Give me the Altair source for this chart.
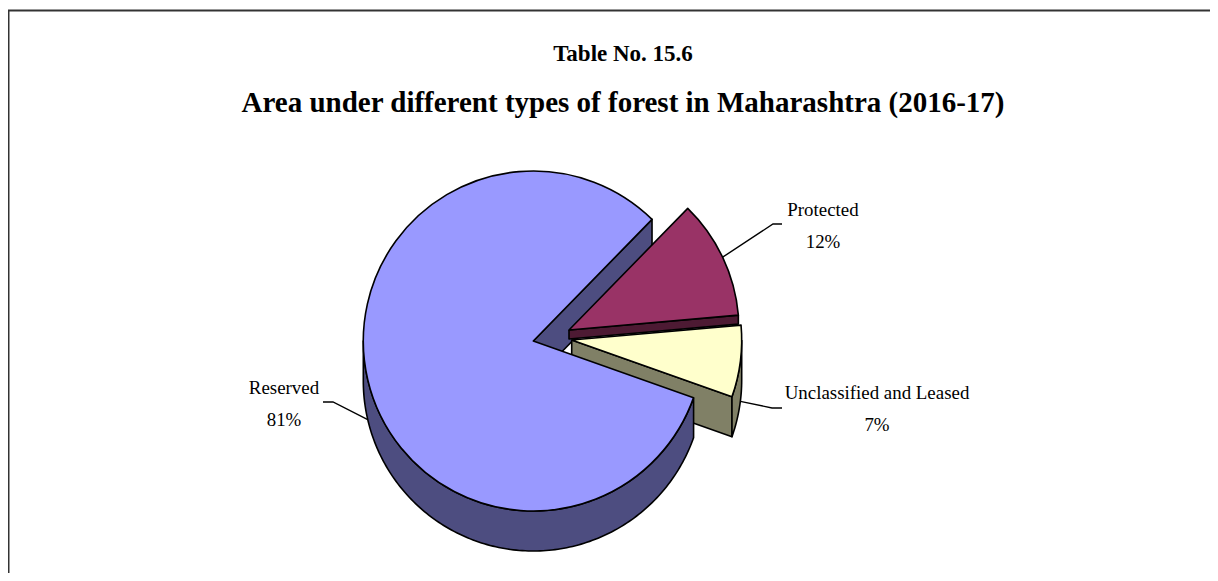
import math
import altair as alt
import pandas as pd

# ---- values
categories = ["Protected", "Unclassified and Leased", "Reserved"]
shares = [11.3, 6.8, 81.9]
percent_labels = ["12%", "7%", "81%"]
top_colors = ["#993366", "#FFFFCC", "#9999FF"]
wall_colors = ["#4D1A33", "#808066", "#4D4D80"]

title_line = "Table No. 15.6"
subtitle_line = "Area under different types of forest in Maharashtra (2016-17)"

# ---- layout (page pixels)
W, H = 1202, 565
PAGE = 8
START_DEG = 44.3
RADIUS = 170
centres = [(569.0, 330.0), (571.7, 340.0), (533.3, 341.0)]
wall_depths = [9, 40, 40]
label_xy = [(823, 226), (877, 409), (284, 404)]
elbow_xy = [(773, 224), (772, 408), (333, 402)]
leader_end = [(782, 224), (782, 408), (323, 402)]
leader_drop = [0, 40, 40]

xs = alt.Scale(domain=[PAGE, PAGE + W], range=[0, W])
ys = alt.Scale(domain=[PAGE, PAGE + H], range=[0, H])

# slice angles, clockwise from north, derived from the shares
total = sum(shares)
angles = []
cur = START_DEG
for s in shares:
    nxt = cur + s / total * 360
    angles.append((cur, nxt))
    cur = nxt


def pt(c, deg, dy=0, r=RADIUS):
    a = math.radians(deg)
    return c[0] + r * math.sin(a), c[1] - r * math.cos(a) + dy


def polygon(points, color):
    pts = points + [points[0]]
    df = pd.DataFrame({"x": [p[0] for p in pts], "y": [p[1] for p in pts], "o": range(len(pts))})
    return alt.Chart(df).mark_line(fill=color, stroke="black", strokeWidth=1.6, strokeJoin="round").encode(
        x=alt.X("x:Q", scale=xs, axis=None),
        y=alt.Y("y:Q", scale=ys, axis=None),
        order="o:Q",
    )


def arc_points(c, a0, a1, dy=0, step=1.0):
    n = max(2, int(abs(a1 - a0) / step))
    return [pt(c, a0 + (a1 - a0) * i / n, dy) for i in range(n + 1)]


def top(i):
    c = centres[i]
    a0, a1 = angles[i]
    df = pd.DataFrame({"x": [c[0]], "y": [c[1]], "t0": [math.radians(a0)], "t1": [math.radians(a1)],
                       "category": [categories[i]]})
    return alt.Chart(df).mark_arc(outerRadius=RADIUS, innerRadius=0, fill=top_colors[i], stroke="black",
                                  strokeWidth=1.6, strokeJoin="round").encode(
        x=alt.X("x:Q", scale=xs, axis=None),
        y=alt.Y("y:Q", scale=ys, axis=None),
        theta=alt.Theta("t0:Q", scale=None),
        theta2=alt.Theta2("t1:Q"),
    )


def start_wall(i, deg):
    c, d = centres[i], wall_depths[i]
    p = pt(c, deg)
    return polygon([c, p, (p[0], p[1] + d), (c[0], c[1] + d)], wall_colors[i])


def outer_wall(i, a0, a1):
    c, d = centres[i], wall_depths[i]
    return polygon(arc_points(c, a0, a1) + arc_points(c, a1, a0, d), wall_colors[i])


layers = [
    start_wall(2, angles[2][1]),          # inner face of the large slice
    start_wall(0, angles[0][1]),          # cut face of Protected
    top(0),
    start_wall(1, angles[1][1]),          # cut face of Unclassified
    outer_wall(1, angles[1][0] + 5, angles[1][1]),
    top(1),
    outer_wall(2, angles[2][0], 270),
    top(2),
]

# leader lines
for i in range(3):
    mid = sum(angles[i]) / 2
    s = pt(centres[i], mid, leader_drop[i])
    pts = [s, elbow_xy[i], leader_end[i]]
    df = pd.DataFrame({"x": [p[0] for p in pts], "y": [p[1] for p in pts], "o": [0, 1, 2]})
    layers.append(alt.Chart(df).mark_line(color="black", strokeWidth=1.4).encode(
        x=alt.X("x:Q", scale=xs, axis=None), y=alt.Y("y:Q", scale=ys, axis=None), order="o:Q"))

# data labels
lab = pd.DataFrame({
    "x": [p[0] for p in label_xy], "y": [p[1] for p in label_xy],
    "cat": categories, "pct": percent_labels})
base_text = dict(font="Liberation Serif", fontSize=18.9, color="black", align="center", baseline="middle")
layers.append(alt.Chart(lab).mark_text(dy=-16, **base_text).encode(
    x=alt.X("x:Q", scale=xs, axis=None), y=alt.Y("y:Q", scale=ys, axis=None), text="cat:N"))
layers.append(alt.Chart(lab).mark_text(dy=16, **base_text).encode(
    x=alt.X("x:Q", scale=xs, axis=None), y=alt.Y("y:Q", scale=ys, axis=None), text="pct:N"))

# frame
frame_top = alt.Chart(pd.DataFrame({"a": [0]})).mark_rule(color="#333333", strokeWidth=2).encode(
    x=alt.value(0), x2=alt.value(W), y=alt.value(2.5))
frame_left = alt.Chart(pd.DataFrame({"a": [0]})).mark_rule(color="#333333", strokeWidth=3).encode(
    x=alt.value(0), y=alt.value(2), y2=alt.value(H))
layers = [frame_top, frame_left] + layers

chart = alt.layer(*layers).properties(
    width=W, height=H, padding=0, background="white",
    autosize=alt.AutoSizeParams(type="none"),
    title=alt.TitleParams(
        text=title_line, subtitle=subtitle_line, anchor="middle", frame="group",
        font="Liberation Serif", fontWeight="bold", fontSize=23, color="black",
        subtitleFont="Liberation Serif", subtitleFontWeight="bold", subtitleFontSize=29,
        subtitleColor="black", subtitlePadding=23, baseline="top", offset=-110,
        dx=14,
    ),
).configure_view(stroke=None)

chart.save("out.html", embed_options={"renderer": "svg", "actions": False})
